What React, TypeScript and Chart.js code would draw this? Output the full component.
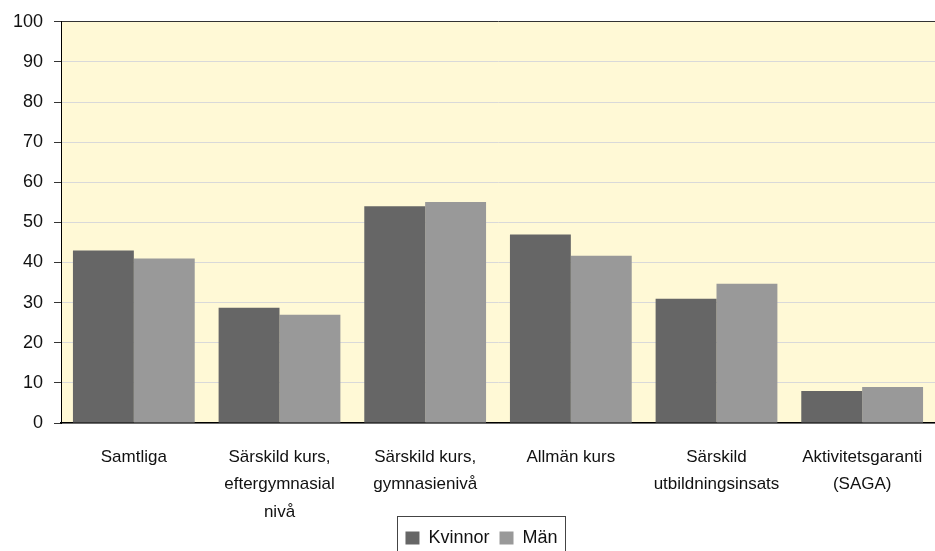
import React, { useEffect, useRef } from "react";
import { Chart, registerables } from "chart.js";

Chart.register(...registerables);

const categories: string[][] = [
  ["Samtliga"],
  ["Särskild kurs,", "eftergymnasial", "nivå"],
  ["Särskild kurs,", "gymnasienivå"],
  ["Allmän kurs"],
  ["Särskild", "utbildningsinsats"],
  ["Aktivitetsgaranti", "(SAGA)"],
];
const kvinnor = [43, 28.7, 54, 47, 31, 8];
const man = [41, 27, 55.1, 41.7, 34.7, 9];
const seriesNames = ["Kvinnor", "Män"];
const yMin = 0;
const yMax = 100;
const yStep = 10;

const FONT = "'Liberation Sans', Arial, sans-serif";
const LEGEND_SHIFT = 14;

const bgPlugin = {
  id: "plotBg",
  beforeDraw(chart: any) {
    const { ctx, chartArea } = chart;
    if (!chartArea) return;
    ctx.save();
    ctx.fillStyle = "#FFF9D6";
    ctx.fillRect(chartArea.left, chartArea.top, chartArea.right - chartArea.left, chartArea.bottom - chartArea.top);
    ctx.restore();
  },
};

const legendPlugin = {
  id: "legendBox",
  afterLayout(chart: any) {
    const l = chart.legend;
    if (l) {
      l.left += LEGEND_SHIFT;
      l.right += LEGEND_SHIFT;
    }
  },
  afterDraw(chart: any) {
    const l = chart.legend;
    if (!l || !l.legendHitBoxes || !l.legendHitBoxes.length) return;
    const hb = l.legendHitBoxes;
    const first = hb[0];
    const last = hb[hb.length - 1];
    const { ctx } = chart;
    const left = first.left - 8;
    const right = last.left + last.width + 8;
    const top = first.top - 13;
    ctx.save();
    ctx.strokeStyle = "#444";
    ctx.lineWidth = 1;
    ctx.strokeRect(Math.round(left) + 0.5, Math.round(top) + 0.5, Math.round(right - left), 60);
    ctx.restore();
  },
};

export default function App() {
  const ref = useRef<HTMLCanvasElement | null>(null);
  useEffect(() => {
    if (!ref.current) return;
    const chart = new Chart(ref.current, {
      type: "bar",
      data: {
        labels: categories,
        datasets: [
          { label: seriesNames[0], data: kvinnor, backgroundColor: "#666666", borderWidth: 0 },
          { label: seriesNames[1], data: man, backgroundColor: "#999999", borderWidth: 0 },
        ],
      },
      options: {
        responsive: false,
        animation: false,
        events: [],
        layout: { padding: { top: 20, left: 0, right: 0, bottom: -6 } },
        datasets: { bar: { categoryPercentage: 0.836, barPercentage: 1 } },
        scales: {
          x: {
            grid: { display: false, drawTicks: false },
            border: { display: true, color: "#000", width: 1.5 },
            ticks: {
              color: "#111",
              padding: 21,
              maxRotation: 0,
              autoSkip: false,
              font: { family: FONT, size: 17, lineHeight: 1.6 },
            },
            afterFit: (scale: any) => {
              scale.height = 96;
              scale.paddingLeft = 0;
              scale.paddingRight = 0;
            },
          },
          y: {
            min: yMin,
            max: yMax,
            ticks: {
              stepSize: yStep,
              color: "#111",
              padding: 11,
              font: { family: FONT, size: 18 },
            },
            grid: {
              color: (c: any) => (c.tick && c.tick.value === yMax ? "#333" : "#d9d9d9"),
              tickColor: "#333",
              tickLength: 7,
              lineWidth: 1,
            },
            border: { display: true, color: "#000", width: 1 },
            afterFit: (scale: any) => {
              scale.width = 61;
            },
          },
        },
        plugins: {
          legend: {
            position: "bottom",
            labels: {
              boxWidth: 14,
              boxHeight: 13,
              padding: 10,
              color: "#111",
              font: { family: FONT, size: 18 },
            },
          },
          tooltip: { enabled: false },
        },
      },
      plugins: [bgPlugin, legendPlugin],
    });
    return () => chart.destroy();
  }, []);
  return (
    <div style={{ position: "fixed", left: 0, top: 0, width: 935, height: 551, background: "#fff" }}>
      <canvas ref={ref} width={935} height={551} style={{ width: 935, height: 551, display: "block" }} />
    </div>
  );
}
